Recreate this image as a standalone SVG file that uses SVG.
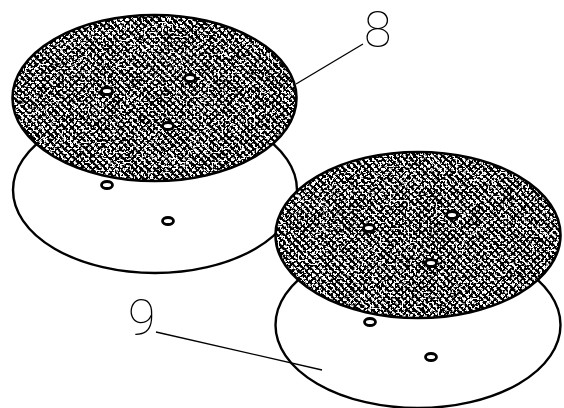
<svg xmlns="http://www.w3.org/2000/svg" width="564" height="408" viewBox="0 0 564 408">
<style>
.disc{fill:#fff;stroke:#000;stroke-width:2.4}
.rim{fill:none;stroke:#000;stroke-width:2.6}
.hole{fill:#fff;stroke:#000;stroke-width:2.8}
.tex{fill:url(#weave);filter:url(#rough)}
.lead{fill:none;stroke:#000;stroke-width:1.3}
.num{font-family:"Roboto","Inter","Liberation Sans",sans-serif;font-weight:100;font-size:50px;fill:#000}
</style>
<defs>
<pattern id="weave" width="7" height="7" patternUnits="userSpaceOnUse">
<rect width="7" height="7" fill="#fff"/>
<path d="M-1.750 -1.750L8.750 8.750M-1.750 5.250L1.750 8.750M5.250 -1.750L8.750 1.750" stroke="#000" stroke-width="2.8"/>
<path d="M-1 4.500L4.500 -1M2.500 8L8 2.500" stroke="#000" stroke-width="1.3"/>
</pattern>
<filter id="rough" x="0" y="0" width="1" height="1" color-interpolation-filters="sRGB">
<feTurbulence type="fractalNoise" baseFrequency="0.42" numOctaves="2" seed="4" result="n"/>
<feDisplacementMap in="SourceGraphic" in2="n" scale="3" xChannelSelector="R" yChannelSelector="G" result="d"/>
<feTurbulence type="fractalNoise" baseFrequency="0.5" numOctaves="1" seed="11"/>
<feColorMatrix type="matrix" values="6 0 0 0 -3.300 6 0 0 0 -3.300 6 0 0 0 -3.300 0 0 0 0 1" result="s"/>
<feBlend in="d" in2="s" mode="screen"/>
<feComponentTransfer><feFuncR type="linear" slope="4" intercept="-1.500"/><feFuncG type="linear" slope="4" intercept="-1.500"/><feFuncB type="linear" slope="4" intercept="-1.500"/></feComponentTransfer>
</filter>
<clipPath id="c1"><ellipse cx="154.500" cy="98" rx="142" ry="83"/></clipPath>
<clipPath id="c2"><ellipse cx="418" cy="235" rx="142.500" ry="83"/></clipPath>
</defs>
<g id="disc-lower-left">
<ellipse class="disc" cx="155" cy="190" rx="142" ry="83"/>
<ellipse class="hole" cx="107" cy="185" rx="5.500" ry="3.500"/>
<ellipse class="hole" cx="168" cy="221" rx="5.500" ry="3.500"/>
</g>
<g id="disc-upper-left">
<g clip-path="url(#c1)"><rect class="tex" x="6" y="8" width="298" height="180"/></g>
<ellipse class="rim" cx="154.500" cy="98" rx="142" ry="83"/>
<ellipse class="hole" cx="107" cy="91" rx="5.500" ry="3.500"/>
<ellipse class="hole" cx="190" cy="78" rx="5.500" ry="3.500"/>
<ellipse class="hole" cx="168" cy="126" rx="5.500" ry="3.500"/>
</g>
<g id="disc-lower-right">
<ellipse class="disc" cx="418" cy="325" rx="142.500" ry="83"/>
<ellipse class="hole" cx="370" cy="322" rx="5.500" ry="3.500"/>
<ellipse class="hole" cx="431" cy="357" rx="5.500" ry="3.500"/>
</g>
<g id="disc-upper-right">
<g clip-path="url(#c2)"><rect class="tex" x="268" y="145" width="300" height="180"/></g>
<ellipse class="rim" cx="418" cy="235" rx="142.500" ry="83"/>
<ellipse class="hole" cx="369" cy="228" rx="5.500" ry="3.500"/>
<ellipse class="hole" cx="452" cy="215" rx="5.500" ry="3.500"/>
<ellipse class="hole" cx="431" cy="263" rx="5.500" ry="3.500"/>
</g>
<g id="connectors">
<path class="lead" d="M296 84L363 44"/>
<path class="lead" d="M156 332L322 370"/>
</g>
<g id="label-8"><text class="num" x="364" y="47">8</text></g>
<g id="label-9"><text class="num" x="128" y="335">9</text></g>
</svg>
